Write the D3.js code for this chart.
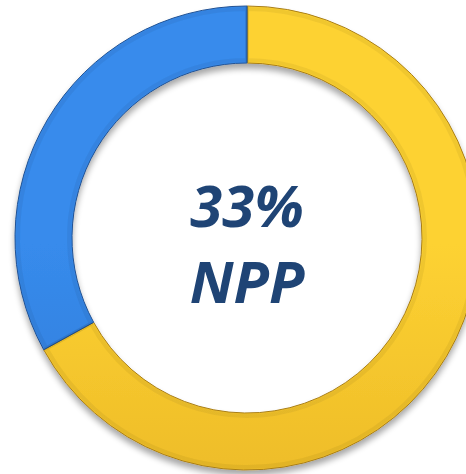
<!DOCTYPE html>
<html>
<head>
<meta charset="utf-8">
<script src="https://cdn.jsdelivr.net/npm/d3@7"></script>
<style>
  html, body { margin: 0; padding: 0; background: #fff; }
  svg { display: block; }
</style>
</head>
<body>
<div id="chart"></div>
<script>
// donut: yellow share first, blue (NPP) share closes the ring at the top
const labels = ["Other", "NPP"];
const values = [67, 33];
const centerLines = ["33%", "NPP"];

const width = 466,
  height = 474;
const cx = 247,
  cy = 238;
const outerR = 232,
  innerR = 175;

// top/bottom colour of each slice gradient
const sliceColors = {
  Other: ["#fdd232", "#dfa720"],
  NPP: ["#378bec", "#2a6cc4"]
};

const svg = d3.select("#chart")
  .append("svg")
  .attr("width", width)
  .attr("height", height);

const defs = svg.append("defs");

labels.forEach(function (name) {
  let grad = defs.append("linearGradient")
    .attr("id", "grad-" + name)
    .attr("gradientUnits", "userSpaceOnUse")
    .attr("x1", 0).attr("y1", cy - outerR)
    .attr("x2", 0).attr("y2", cy + outerR);
  grad.append("stop").attr("offset", "0%").attr("stop-color", sliceColors[name][0]);
  grad.append("stop").attr("offset", "100%").attr("stop-color", sliceColors[name][1]);
});

// soft shadow under the ring
const shadow = defs.append("filter")
  .attr("id", "shadow")
  .attr("x", "-10%").attr("y", "-10%")
  .attr("width", "120%").attr("height", "120%");
shadow.append("feGaussianBlur").attr("in", "SourceAlpha").attr("stdDeviation", 3).attr("result", "blur");
shadow.append("feOffset").attr("in", "blur").attr("dx", 0).attr("dy", 5).attr("result", "off");
shadow.append("feComponentTransfer").attr("in", "off").attr("result", "soft")
  .append("feFuncA").attr("type", "linear").attr("slope", 0.35);
const merge = shadow.append("feMerge");
merge.append("feMergeNode").attr("in", "soft");
merge.append("feMergeNode").attr("in", "SourceGraphic");

const pie = d3.pie()
  .sort(null)
  .value(d => d);

const arc = d3.arc()
  .innerRadius(innerR)
  .outerRadius(outerR);

// slight bevel: faint band inside the edges
const bevel = d3.arc()
  .innerRadius(innerR + 3)
  .outerRadius(outerR - 3);

const g = svg.append("g")
  .attr("transform", `translate(${cx}, ${cy})`);

const slices = g.append("g")
  .attr("filter", "url(#shadow)")
  .selectAll("path")
  .data(pie(values))
  .enter();

slices.append("path")
  .attr("d", arc)
  .attr("fill", (d, i) => `url(#grad-${labels[i]})`)
  .style("stroke", (d, i) => d3.color(sliceColors[labels[i]][1]).darker(0.8))
  .style("stroke-width", "1px");

slices.append("path")
  .attr("d", bevel)
  .attr("fill", "none")
  .style("stroke", "#000")
  .style("stroke-opacity", 0.05)
  .style("stroke-width", "4px");

// centre label
g.selectAll("text.center")
  .data(centerLines)
  .enter()
  .append("text")
  .attr("class", "center")
  .attr("text-anchor", "middle")
  .attr("x", 0)
  .attr("y", (d, i) => -11 + i * 76)
  .style("font-family", "'Open Sans', sans-serif")
  .style("font-weight", "bold")
  .style("font-style", "italic")
  .style("font-size", "58px")
  .style("fill", "#1f4475")
  .text(d => d);
</script>
</body>
</html>
